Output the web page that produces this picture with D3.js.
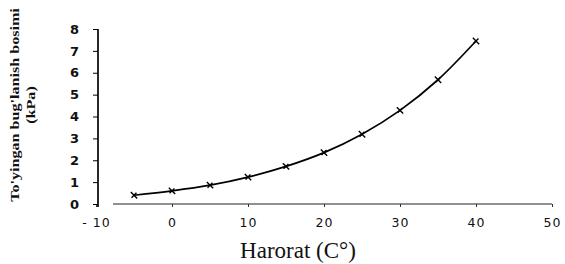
<!DOCTYPE html>
<html>
<head>
<meta charset="utf-8">
<script src="https://cdn.jsdelivr.net/npm/d3@7"></script>
<style>
  body { margin: 0; background: #fff; }
  svg { display: block; }
</style>
</head>
<body>
<div id="chart"></div>
<script>
// Harorat (°C) va to'yingan bug'lanish bosimi (kPa)
const temps = [-5, 0, 5, 10, 15, 20, 25, 30, 35, 40];
const pressures = [0.40, 0.60, 0.86, 1.23, 1.72, 2.35, 3.19, 4.28, 5.68, 7.45];
const xTicks = [-10, 0, 10, 20, 30, 40, 50];
const yTicks = [0, 1, 2, 3, 4, 5, 6, 7, 8];

const width = 565, height = 264;
const svg = d3.select("#chart").append("svg")
    .attr("width", width).attr("height", height);

const x = d3.scaleLinear().domain([-10, 50]).range([96, 552]);
const y = d3.scaleLinear().domain([0, 8]).range([204, 29]);

const tickFont = "DejaVu Sans, sans-serif";

// x o'qi (chiziq y o'qidan biroz uzoqda boshlanadi)
const gx = svg.append("g").attr("transform", `translate(0,${y(0)})`)
    .call(d3.axisBottom(x).tickValues(xTicks).tickSize(3).tickPadding(11)
        .tickFormat(d => d < 0 ? "- " + Math.abs(d) : d));
gx.select(".domain").remove();
gx.append("line")
    .attr("x1", x(-10) + 17).attr("x2", x(50))
    .attr("stroke", "#222").attr("stroke-width", 1.2);
gx.selectAll(".tick line").attr("stroke", "#333");
gx.selectAll("text").attr("font-family", tickFont).attr("font-size", 12.5)
    .attr("fill", "#111").attr("letter-spacing", 1);

// y o'qi
const gy = svg.append("g").attr("transform", `translate(${x(-10) + 2},0)`)
    .call(d3.axisLeft(y).tickValues(yTicks).tickSize(5).tickPadding(14));
gy.select(".domain").attr("d", `M0,${y(8)}V${y(0) + 3}`)
    .attr("stroke", "#111").attr("stroke-width", 1.8);
gy.selectAll("text").attr("font-family", tickFont).attr("font-size", 13)
    .attr("font-weight", "bold").attr("fill", "#111");

// egri chiziq
const data = temps.map((t, i) => ({ t, p: pressures[i] }));
svg.append("path").datum(data)
    .attr("fill", "none").attr("stroke", "#000").attr("stroke-width", 1.7)
    .attr("d", d3.line().x(d => x(d.t)).y(d => y(d.p)).curve(d3.curveCatmullRom));

// × belgilari
svg.append("g").selectAll("path").data(data).enter().append("path")
    .attr("transform", d => `translate(${x(d.t)},${y(d.p)}) rotate(45)`)
    .attr("fill", "none").attr("stroke", "#000").attr("stroke-width", 1.4)
    .attr("d", "M-4.5,0H4.5M0,-3.5V3.5");

// o'q nomlari
svg.append("text")
    .attr("x", 298).attr("y", 258)
    .attr("text-anchor", "middle")
    .attr("font-family", "Liberation Serif, serif").attr("font-size", 23)
    .attr("fill", "#111")
    .text("Harorat (C°)");

const yt = svg.append("text")
    .attr("transform", "translate(19,105) rotate(-90) scale(1.24,1)")
    .attr("text-anchor", "middle")
    .attr("font-family", "Liberation Serif, serif").attr("font-size", 13)
    .attr("font-weight", "bold").attr("fill", "#111");
yt.append("tspan").attr("x", 0).attr("y", 0).text("To'yingan bug'lanish bosimi");
yt.append("tspan").attr("x", 0).attr("y", 16).text("(kPa)");
</script>
</body>
</html>
